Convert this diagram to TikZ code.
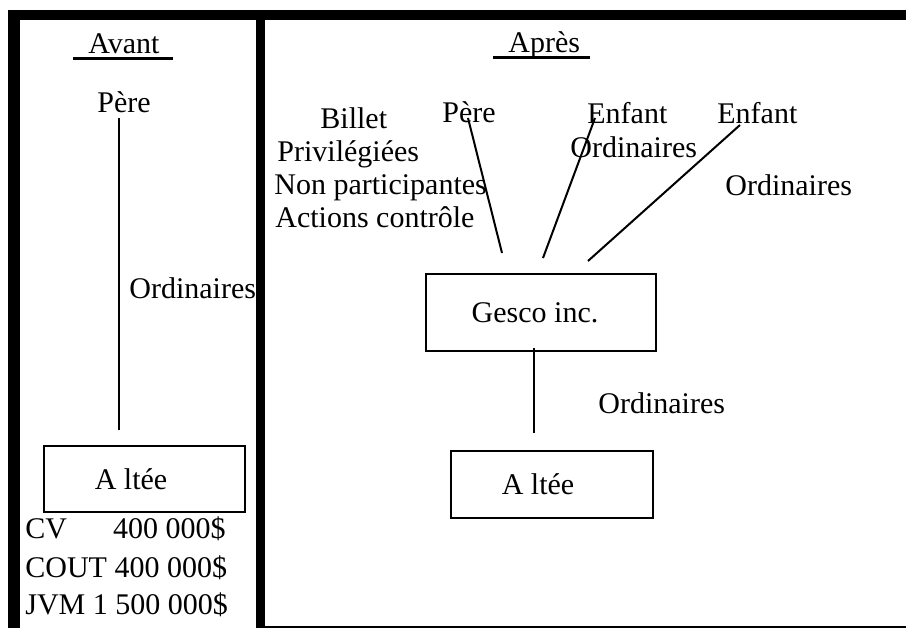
\documentclass[tikz,border=0pt]{standalone}
\usepackage{fontspec}
\setmainfont{Liberation Serif}
\usepackage{tikz}
\newcommand{\souligne}[3]{\draw[line width=1.5pt] (#1,#3) -- (#2,#3);}
\tikzset{
  txt/.style={anchor=base west,inner sep=0pt,font=\fontsize{15}{18}\selectfont},
  boite/.style={draw,line width=1pt,inner sep=0pt,font=\fontsize{15}{18}\selectfont},
  lien/.style={line width=1pt},
}

\begin{document}
\begin{tikzpicture}[x=0.5pt,y=-0.5pt]
\useasboundingbox (0,0) rectangle (906,628);
% ---- cadre ----
\fill (8,10) rectangle (906,20);
\fill (8,10) rectangle (20,628);
\fill (256,10) rectangle (265,628);
\draw[line width=0.75pt] (265,627) -- (906,627);
% ---- AVANT ----
\node[txt] (avant) at (88,53) {Avant};
\souligne{73}{173}{58}
\node[txt] (pereA) at (97,112) {Père};
\node[txt] (ordA) at (129,298) {Ordinaires};
\node[boite,minimum width=100.5pt,minimum height=33pt] (lteeA) at (144.5,479) {A ltée\hspace*{13.5pt}};
\coordinate (pereA-bas) at (119,118);
\coordinate (lteeA-haut) at (119,430);
\draw[lien] (pereA-bas) -- (lteeA-haut);
\node[txt] (cv) at (25,538) {CV\hspace{23pt}400 000\$};
\node[txt] (cout) at (25,577) {COUT 400 000\$};
\node[txt] (jvm) at (25,614) {JVM 1 500 000\$};
% ---- APRES ----
\node[txt] (apres) at (508,52) {Après};
\souligne{493}{590}{57}
\node[txt] (billet) at (320,128) {Billet};
\node[txt] (priv) at (277,161) {Privilégiées};
\node[txt] (nonpart) at (274,194) {Non participantes};
\node[txt] (controle) at (275,227) {Actions contrôle};
\node[txt] (pereB) at (442,122) {Père};
\node[txt] (enfant1) at (587,123) {Enfant};
\node[txt] (ord1) at (570,157) {Ordinaires};
\node[txt] (enfant2) at (717,123) {Enfant};
\node[txt] (ord2) at (725,195) {Ordinaires};
\node[boite,minimum width=115pt,minimum height=38.5pt] (gesco) at (541,312.5) {Gesco inc.\hspace*{6pt}};
\node[txt] (ord3) at (598,413) {Ordinaires};
\node[boite,minimum width=101pt,minimum height=33.5pt] (lteeB) at (552,484.5) {A ltée\hspace*{14pt}};
\coordinate (pereB-bas) at (468,118);
\coordinate (gesco-p) at (502,253);
\coordinate (enfant1-bas) at (595,118);
\coordinate (gesco-e1) at (543,258);
\coordinate (enfant2-bas) at (740,125);
\coordinate (gesco-e2) at (588,261);
\coordinate (gesco-bas) at (534,348);
\coordinate (lteeB-haut) at (534,433);
\draw[lien] (pereB-bas) -- (gesco-p);
\draw[lien] (enfant1-bas) -- (gesco-e1);
\draw[lien] (enfant2-bas) -- (gesco-e2);
\draw[lien] (gesco-bas) -- (lteeB-haut);
\end{tikzpicture}
\end{document}
